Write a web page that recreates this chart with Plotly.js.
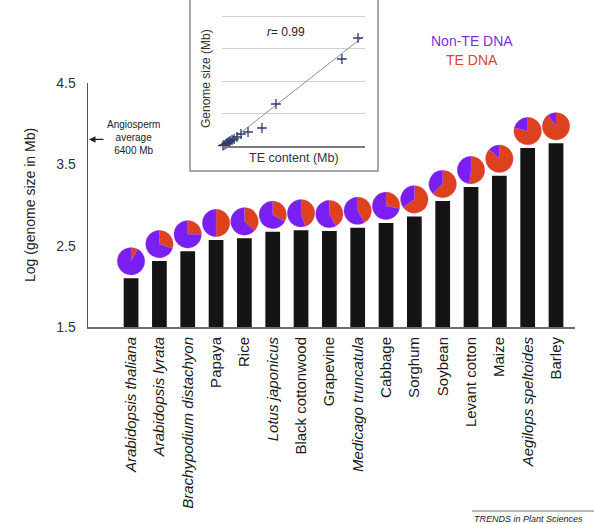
<!DOCTYPE html>
<html>
<head>
<meta charset="utf-8">
<script src="https://cdn.plot.ly/plotly-3.0.1.min.js"></script>
<style>html,body{margin:0;padding:0;background:#fff;}#chart{width:594px;height:524px;}</style>
</head>
<body>
<div id="chart"></div>
<script>
// ---- data ----
const species = ["Arabidopsis thaliana","Arabidopsis lyrata","Brachypodium distachyon","Papaya","Rice","Lotus japonicus","Black cottonwood","Grapevine","Medicago truncatula","Cabbage","Sorghum","Soybean","Levant cotton","Maize","Aegilops speltoides","Barley"];
const tickLabels = ["<i>Arabidopsis thaliana</i>","<i>Arabidopsis lyrata</i>","<i>Brachypodium distachyon</i>","Papaya","Rice","<i>Lotus japonicus</i>","Black cottonwood","Grapevine","<i>Medicago truncatula</i>","Cabbage","Sorghum","Soybean","Levant cotton","Maize","<i>Aegilops speltoides</i>","Barley"];
const logGenome = [2.10,2.31,2.43,2.57,2.59,2.67,2.69,2.68,2.72,2.78,2.86,3.05,3.22,3.36,3.70,3.76];
const tePercent = [8,30,25,50,37,33,45,42,42,28,65,63,52,87,79,90];
const angiospermAvgLog = 3.806;
// inset scatter: TE content (Mb) vs genome size (Mb)
const insetTE = [4300,3790,1706,1264,822,600,474,380,316,253,221,190,158,126,63,30];
const insetGenome = [4985,4015,1938,830,646,554,415,323,277,231,185,160,138,92,46,20];
const fitTE = [60,4450];
const fitGenome = [0,5030];

// ---- geometry (pixels) ----
const W = 594, H = 524;
const px = v => v / W, py = v => 1 - v / H;
const mainL = 88, mainR = 575, mainT = 83, mainB = 327;
const xr = [-1.52, 15.67], yr = [1.5, 4.5];
const idx = species.map((s, i) => i);

const purple = '#7a1ff2', red = '#de411d';
const font = 'Liberation Sans, Arial, sans-serif';

const traces = [];
traces.push({
  type: 'bar', x: idx, y: logGenome, base: 0,
  marker: {color: '#141414'}, width: 0.52,
  xaxis: 'x', yaxis: 'y', showlegend: false, hoverinfo: 'skip'
});

// pies positioned via axis scales
const xToPx = i => mainL + (i - xr[0]) / (xr[1] - xr[0]) * (mainR - mainL);
const yToPx = v => mainB - (v - yr[0]) / (yr[1] - yr[0]) * (mainB - mainT);
const R = 13.8, lift = 17;
idx.forEach(i => {
  const cx = xToPx(i), cy = yToPx(logGenome[i]) - lift;
  traces.push({
    type: 'pie', values: [tePercent[i], 100 - tePercent[i]],
    labels: ['TE DNA', 'Non-TE DNA'],
    marker: {colors: [red, purple], line: {color: 'rgba(190,80,200,0.35)', width: 0.8}},
    sort: false, direction: 'clockwise', rotation: 0,
    textinfo: 'none', hoverinfo: 'skip', showlegend: false,
    domain: {x: [px(cx - R), px(cx + R)], y: [py(cy + R), py(cy - R)]}
  });
});

// inset
traces.push({
  type: 'scatter', mode: 'lines', x: fitTE, y: fitGenome,
  line: {color: '#8a8fa0', width: 1}, xaxis: 'x2', yaxis: 'y2',
  showlegend: false, hoverinfo: 'skip', cliponaxis: false
});
traces.push({
  type: 'scatter', mode: 'markers', x: insetTE, y: insetGenome,
  marker: {symbol: 'cross-thin', size: 7, line: {color: '#2f3d6e', width: 1.3}},
  xaxis: 'x2', yaxis: 'y2', showlegend: false, hoverinfo: 'skip', cliponaxis: false
});

const ann = (text, x, y, size, color, extra) => Object.assign({
  text: text, xref: 'paper', yref: 'paper', x: px(x), y: py(y),
  xanchor: 'center', yanchor: 'middle', showarrow: false,
  font: {size: size, color: color}
}, extra || {});

const layout = {
  width: W, height: H,
  margin: {l: 0, r: 0, t: 0, b: 0},
  paper_bgcolor: '#fff', plot_bgcolor: 'rgba(0,0,0,0)',
  hovermode: false, showlegend: false,
  font: {family: font, color: '#222'},
  xaxis: {
    domain: [px(mainL), px(mainR)], range: xr,
    tickmode: 'array', tickvals: idx, ticktext: tickLabels, tickangle: -90,
    tickfont: {size: 15, color: '#1a1a1a'}, ticks: '', ticklen: 0, ticklabelstandoff: 2,
    showgrid: false, zeroline: false,
    showline: true, linecolor: '#6e6e6e', linewidth: 2
  },
  yaxis: {
    domain: [py(mainB), py(mainT)], range: yr,
    tickvals: [1.5, 2.5, 3.5, 4.5], ticktext: ['1.5','2.5','3.5','4.5'],
    tickfont: {size: 14, color: '#333'}, ticks: '', ticklabelstandoff: 8,
    showgrid: false, zeroline: false,
    showline: true, linecolor: '#555', linewidth: 1.5
  },
  xaxis2: {
    domain: [px(222), px(365)], range: [0, 4520], anchor: 'y2',
    showticklabels: false, ticks: '', showgrid: false, zeroline: false,
    showline: true, linecolor: '#7a7a7a', linewidth: 2
  },
  yaxis2: {
    domain: [py(146), py(3)], range: [0, 6600], anchor: 'x2',
    dtick: 1500, showticklabels: false, ticks: '',
    showgrid: true, gridcolor: '#cfcfcf', gridwidth: 1, zeroline: false, showline: false
  },
  shapes: [
    {type: 'rect', xref: 'paper', yref: 'paper', x0: px(190), x1: px(378), y0: py(171), y1: py(-6),
     line: {color: '#8c8c8c', width: 1.5}, fillcolor: 'rgba(0,0,0,0)', layer: 'below'},
    {type: 'line', xref: 'paper', yref: 'paper', x0: px(472), x1: px(600), y0: py(511), y1: py(511),
     line: {color: '#777', width: 1}}
  ],
  annotations: [
    ann('Log (genome size in Mb)', 30, 205, 14, '#222', {textangle: -90}),
    {text: '', xref: 'paper', yref: 'y', x: px(89), y: angiospermAvgLog,
     showarrow: true, ax: 16, ay: 0, arrowhead: 2, arrowsize: 1, arrowwidth: 1.3, arrowcolor: '#222'},
    ann('Angiosperm<br>average<br>6400 Mb', 133, 138, 10, '#222', {align: 'center'}),
    ann('Genome size (Mb)', 206, 78, 12, '#333', {textangle: -90}),
    ann('TE content (Mb)', 294, 158, 12.5, '#333'),
    ann('<i>r</i>= 0.99', 286, 32, 12, '#222'),
    ann('Non-TE DNA', 472, 41, 14, '#7a2fe0'),
    ann('TE DNA', 472, 60, 14, '#d9462a'),
    ann('<i>TRENDS in Plant Sciences</i>', 472, 512, 9, '#222', {xanchor: 'left', yanchor: 'top'})
  ]
};

Plotly.newPlot('chart', traces, layout, {staticPlot: true, displayModeBar: false});
</script>
</body>
</html>
